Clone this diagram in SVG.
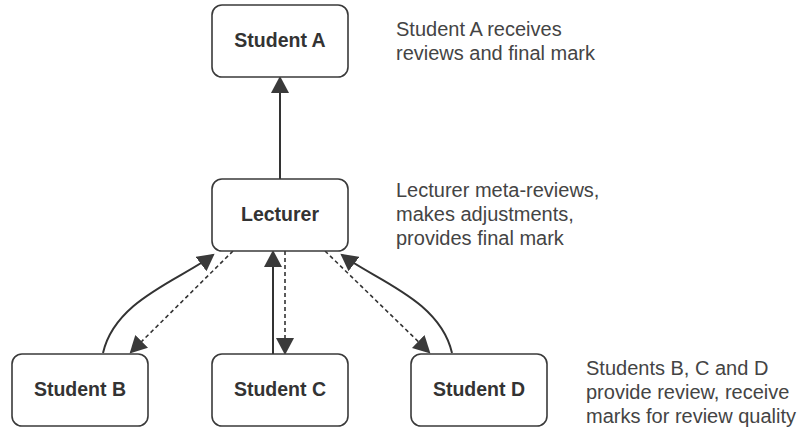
<svg xmlns="http://www.w3.org/2000/svg" width="801" height="429" viewBox="0 0 801 429">
<style>
.box{fill:#fff;stroke:#3a3a3a;stroke-width:1.6}
.lbl{font-family:"Liberation Sans",Arial,sans-serif;font-weight:bold;font-size:19.5px;fill:#333;text-anchor:middle}
.note{font-family:"Liberation Sans",Arial,sans-serif;font-size:20px;fill:#444}
.solid{fill:none;stroke:#333;stroke-width:2}
.dash{fill:none;stroke:#333;stroke-width:1.6;stroke-dasharray:4 3}
</style>
<defs>
<marker id="ah" markerWidth="18" markerHeight="18" refX="15" refY="9" orient="auto" markerUnits="userSpaceOnUse">
<path d="M0,0 L17,9 L0,18 Z" fill="#3a3a3a"/>
</marker>
</defs>
<rect width="801" height="429" fill="#fff"/>
<g id="connectors">
<line class="solid" x1="280" y1="179" x2="280" y2="78" marker-end="url(#ah)"/>
<line class="solid" x1="273" y1="354" x2="273" y2="252" marker-end="url(#ah)"/>
<line class="dash" x1="285" y1="251" x2="285" y2="353" marker-end="url(#ah)"/>
<path class="solid" d="M103,353 C115,300 180,280 213,255" marker-end="url(#ah)"/>
<line class="dash" x1="233" y1="251" x2="131" y2="352" marker-end="url(#ah)"/>
<path class="solid" d="M452,353 C440,300 375,280 342,255" marker-end="url(#ah)"/>
<line class="dash" x1="325" y1="251" x2="429" y2="352" marker-end="url(#ah)"/>
</g>
<g id="studentA"><rect class="box" x="212" y="5" width="136" height="72" rx="10"/><text class="lbl" x="280" y="47">Student A</text></g>
<g id="lecturer"><rect class="box" x="212" y="179" width="136" height="72" rx="10"/><text class="lbl" x="280" y="221">Lecturer</text></g>
<g id="studentB"><rect class="box" x="12" y="354" width="136" height="72" rx="10"/><text class="lbl" x="80" y="396">Student B</text></g>
<g id="studentC"><rect class="box" x="212" y="354" width="136" height="72" rx="10"/><text class="lbl" x="280" y="396">Student C</text></g>
<g id="studentD"><rect class="box" x="411" y="354" width="136" height="72" rx="10"/><text class="lbl" x="479" y="396">Student D</text></g>
<g id="noteA"><text class="note" x="396" y="36">Student A receives</text><text class="note" x="396" y="60">reviews and final mark</text></g>
<g id="noteL"><text class="note" x="396" y="197">Lecturer meta-reviews,</text><text class="note" x="396" y="221">makes adjustments,</text><text class="note" x="396" y="245">provides final mark</text></g>
<g id="noteS"><text class="note" x="586" y="375">Students B, C and D</text><text class="note" x="586" y="399">provide review, receive</text><text class="note" x="586" y="423">marks for review quality</text></g>
</svg>
